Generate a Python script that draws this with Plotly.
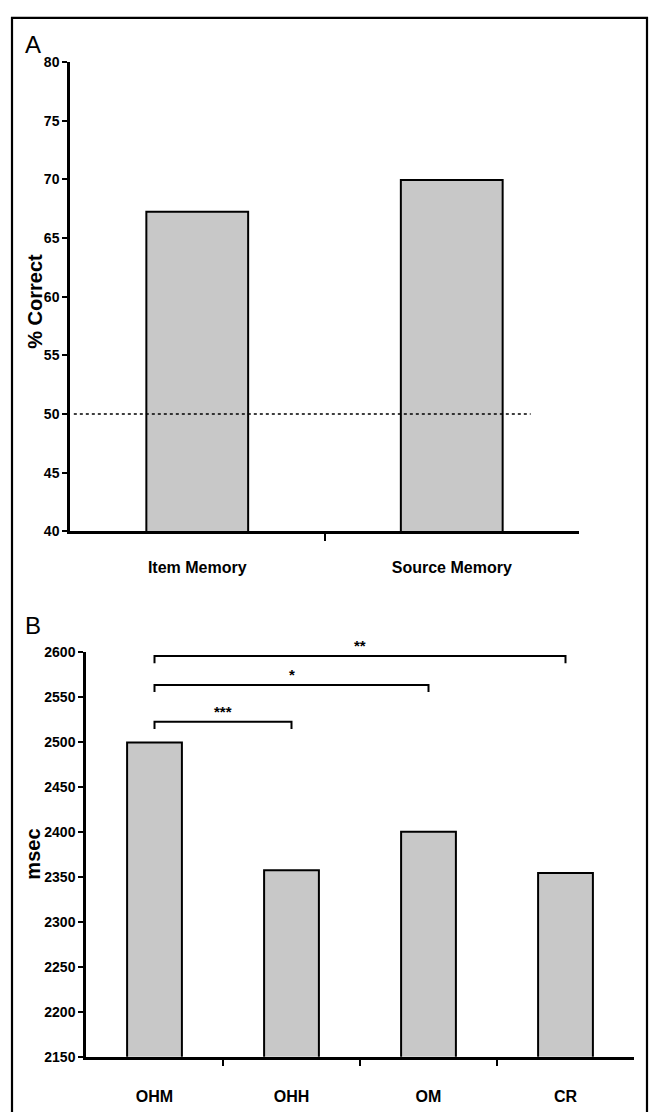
import plotly.graph_objects as go

# Panel A data
cats_a = ["Item Memory", "Source Memory"]
vals_a = [67.25, 69.95]
chance_a = 50
yticks_a = [40, 45, 50, 55, 60, 65, 70, 75, 80]

# Panel B data
cats_b = ["OHM", "OHH", "OM", "CR"]
vals_b = [2499, 2357, 2400, 2354]
yticks_b = [2150, 2200, 2250, 2300, 2350, 2400, 2450, 2500, 2550, 2600]
# significance comparisons: (from index, to index, label, bracket height)
sig_pairs = [(0, 1, "***", 2522), (0, 2, "*", 2563), (0, 3, "**", 2595)]

W, H = 649, 1113
FONT = "Liberation Sans, Arial, sans-serif"

xa = list(range(len(cats_a)))
xb = list(range(len(cats_b)))

fig = go.Figure()
bar_style = dict(marker=dict(color="#c8c8c8", line=dict(color="black", width=2)), width=0.4, showlegend=False)
fig.add_trace(go.Bar(x=xa, y=vals_a, xaxis="x", yaxis="y", **bar_style))
fig.add_trace(go.Bar(x=xb, y=vals_b, xaxis="x2", yaxis="y2", **bar_style))


def px_x(p):
    return p / W


def px_y(p):
    return 1 - p / H


axis_common = dict(showline=True, linecolor="black", linewidth=2.5, showgrid=False, zeroline=False,
                   mirror=False)

fig.update_layout(
    width=W, height=H,
    margin=dict(l=0, r=0, t=0, b=0),
    paper_bgcolor="white", plot_bgcolor="white",
    xaxis=dict(domain=[px_x(70), px_x(579)], range=[-0.5, len(cats_a) - 0.5], anchor="y",
               tickmode="array", tickvals=xa, ticktext=cats_a, ticks="",
               ticklabelstandoff=20,
               tickfont=dict(family=FONT, size=16, color="black", weight="bold"),
               minor=dict(tickvals=[0.5], ticks="outside", ticklen=7, tickwidth=2, tickcolor="black"),
               **axis_common),
    yaxis=dict(domain=[px_y(531), px_y(55)], range=[40, 80], anchor="x",
               tickmode="array", tickvals=yticks_a, ticks="outside", ticklen=5, tickwidth=2, tickcolor="black",
               tickfont=dict(family=FONT, size=14, color="black", weight="bold"),
               **axis_common),
    xaxis2=dict(domain=[px_x(86), px_x(634)], range=[-0.5, len(cats_b) - 0.5], anchor="y2",
                tickmode="array", tickvals=xb, ticktext=cats_b, ticks="",
                ticklabelstandoff=23,
                tickfont=dict(family=FONT, size=16, color="black", weight="bold"),
                minor=dict(tickvals=[0.5, 1.5, 2.5], ticks="outside", ticklen=7, tickwidth=2, tickcolor="black"),
                **axis_common),
    yaxis2=dict(domain=[px_y(1064), px_y(653)], range=[2150, 2600], anchor="x2",
                tickmode="array", tickvals=yticks_b, ticks="outside", ticklen=5, tickwidth=2, tickcolor="black",
                tickfont=dict(family=FONT, size=14, color="black", weight="bold"),
                **axis_common),
)

shapes = []
# outer frame (bottom edge lies below the picture)
shapes.append(dict(type="path", xref="paper", yref="paper",
                   path=f"M {px_x(12)} {px_y(1120)} L {px_x(12)} {px_y(10)} L {px_x(647)} {px_y(10)} L {px_x(647)} {px_y(1120)}",
                   line=dict(color="black", width=2.2), layer="above"))
# chance line
shapes.append(dict(type="line", xref="x", yref="y", x0=-0.485, x1=1.31, y0=chance_a, y1=chance_a,
                   line=dict(color="black", width=1.5, dash="dot")))
# significance brackets
for i, j, lab, h in sig_pairs:
    drop = 8
    shapes.append(dict(type="path", xref="x2", yref="y2",
                       path=f"M {i} {h - drop} L {i} {h} L {j} {h} L {j} {h - drop}",
                       line=dict(color="black", width=2)))
fig.update_layout(shapes=shapes)

annotations = [
    dict(text="A", xref="paper", yref="paper", x=px_x(33), y=px_y(37), showarrow=False,
         font=dict(family=FONT, size=24, color="black"), xanchor="center", yanchor="middle"),
    dict(text="B", xref="paper", yref="paper", x=px_x(33), y=px_y(627), showarrow=False,
         font=dict(family=FONT, size=24, color="black"), xanchor="center", yanchor="middle"),
    dict(text="% Correct", xref="paper", yref="paper", x=px_x(35), y=px_y(298), showarrow=False, textangle=-90,
         font=dict(family=FONT, size=20, color="black", weight="bold"), xanchor="center", yanchor="middle"),
    dict(text="msec", xref="paper", yref="paper", x=px_x(33), y=px_y(859), showarrow=False, textangle=-90,
         font=dict(family=FONT, size=20, color="black", weight="bold"), xanchor="center", yanchor="middle"),
]
for i, j, lab, h in sig_pairs:
    annotations.append(dict(text=lab, xref="x2", yref="y2", x=(i + j) / 2, y=h, yshift=0, showarrow=False,
                            xanchor="center", yanchor="bottom",
                            font=dict(family=FONT, size=15, color="black", weight="bold")))
fig.update_layout(annotations=annotations)

fig.write_html("out.html")
